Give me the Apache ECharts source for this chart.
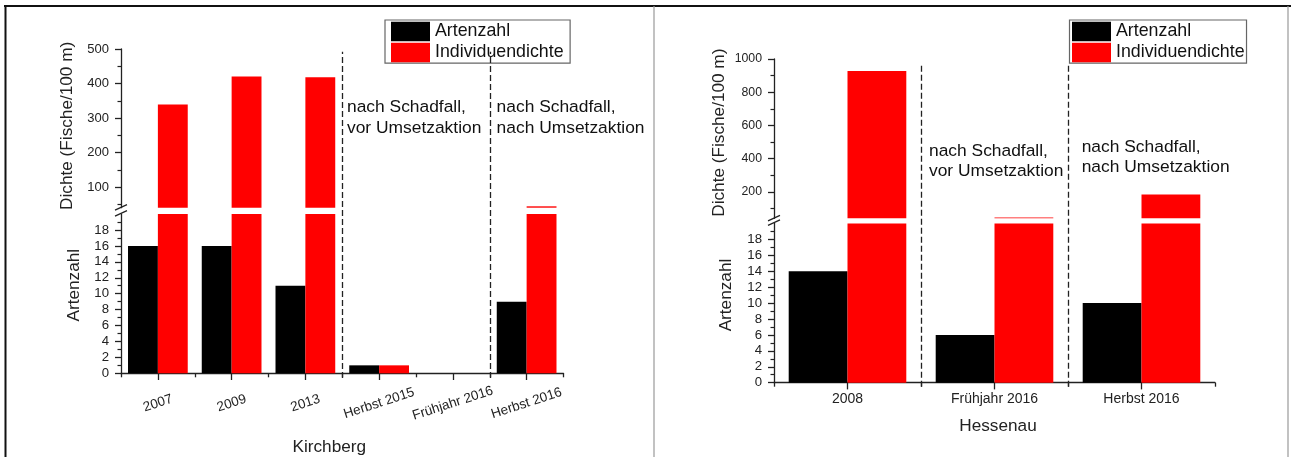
<!DOCTYPE html>
<html>
<head>
<meta charset="utf-8">
<script src="https://cdn.jsdelivr.net/npm/echarts@6/dist/echarts.min.js"></script>
<style>
html,body{margin:0;padding:0;background:#fff;}
#c{width:1291px;height:457px;}
</style>
</head>
<body>
<div id="c"></div>
<script>
// ---------------- data ----------------
const categoriesK = ['2007', '2009', '2013', 'Herbst 2015', 'Frühjahr 2016', 'Herbst 2016'];
const artenK = [16, 16, 11, 1, 0, 9];
const dichteK = [339, 420, 418, 1, 0, 44];

const categoriesH = ['2008', 'Frühjahr 2016', 'Herbst 2016'];
const artenH = [14, 6, 10];
const dichteH = [928, 45, 184];

const dividersK = [3, 5];
const dividersH = [1, 2];

const lowerRange = [0, 20];
const upperRangeK = [40, 500];
const upperRangeH = [40, 1000];

const lowerTicks = [0, 2, 4, 6, 8, 10, 12, 14, 16, 18];
const lowerMinor = [1, 3, 5, 7, 9, 11, 13, 15, 17, 19];
const upperTicksK = [100, 200, 300, 400, 500];
const upperMinorK = [50, 150, 250, 350, 450];
const upperTicksH = [200, 400, 600, 800, 1000];
const upperMinorH = [100, 300, 500, 700, 900];

const seriesNames = ['Artenzahl', 'Individuendichte'];
const annotK = [['nach Schadfall,', 'vor Umsetzaktion'], ['nach Schadfall,', 'nach Umsetzaktion']];
const annotH = [['nach Schadfall,', 'vor Umsetzaktion'], ['nach Schadfall,', 'nach Umsetzaktion']];
const axisNames = {upper: 'Dichte (Fische/100 m)', lower: 'Artenzahl', xK: 'Kirchberg', xH: 'Hessenau'};

// ---------------- layout / style ----------------
const FONT = '"Liberation Sans", Arial, sans-serif';
const AX = '#222';
const colors = ['#000000', '#ff0000'];

const P = {
  K: {left: 121, width: 442.5, upTop: 49, upH: 158.7, loTop: 214.1, loH: 159.2, ovTop: 51.7, ovBottom: 378},
  H: {left: 774, width: 441, upTop: 59, upH: 159.3, loTop: 223.4, loH: 159.3, ovTop: 63.3, ovBottom: 386.7}
};

function grids(p) {
  return [
    {left: p.left, top: p.upTop, width: p.width, height: p.upH, outerBoundsMode: 'none', containLabel: false},
    {left: p.left, top: p.loTop, width: p.width, height: p.loH, outerBoundsMode: 'none', containLabel: false},
    {left: p.left, top: p.ovTop, width: p.width, height: p.ovBottom - p.ovTop, outerBoundsMode: 'none', containLabel: false}
  ];
}

function yMain(gi, range, ticks, name, gap, pad, fs) {
  return {
    type: 'value', gridIndex: gi, position: 'left', min: range[0], max: range[1],
    axisLine: {show: true, lineStyle: {color: AX, width: 1.3}},
    axisTick: {show: true, inside: false, length: 6, lineStyle: {color: AX, width: 1.3}, customValues: ticks},
    axisLabel: {show: true, customValues: ticks, margin: 12, color: AX, fontSize: fs, fontFamily: FONT,
      formatter: v => String(v)},
    splitLine: {show: false}, minorTick: {show: false},
    name: name, nameLocation: 'middle', nameGap: gap, nameRotate: 90,
    nameTextStyle: {fontSize: 17.2, color: AX, fontFamily: FONT, padding: pad}
  };
}
function yMinor(gi, range, ticks) {
  return {
    type: 'value', gridIndex: gi, position: 'left', min: range[0], max: range[1],
    axisLine: {show: false},
    axisTick: {show: true, inside: false, length: 3.5, lineStyle: {color: AX, width: 1.2}, customValues: ticks},
    axisLabel: {show: false}, splitLine: {show: false}
  };
}
function xHidden(gi, cats) {
  return {type: 'category', gridIndex: gi, data: cats, show: false};
}
function xMain(gi, cats, lab, name, gap, pad) {
  return {
    type: 'category', gridIndex: gi, position: 'bottom', data: cats,
    axisLine: {show: true, onZero: false, lineStyle: {color: AX, width: 1.3}},
    axisTick: {show: true, alignWithLabel: true, interval: 0, length: 6.7, lineStyle: {color: AX, width: 1.3}},
    axisLabel: Object.assign({interval: 0, color: AX, fontFamily: FONT}, lab),
    splitLine: {show: false},
    name: name, nameLocation: 'middle', nameGap: gap,
    nameTextStyle: {fontSize: 17.2, color: AX, fontFamily: FONT, padding: pad}
  };
}
function xBound(gi, cats) {
  return {
    type: 'category', gridIndex: gi, position: 'bottom', data: cats,
    axisLine: {show: false, onZero: false},
    axisTick: {show: true, alignWithLabel: false, interval: 0, length: 4, lineStyle: {color: AX, width: 1.3}},
    axisLabel: {show: false}, splitLine: {show: false}
  };
}
function xOverlay(gi, n) {
  return {type: 'value', gridIndex: gi, min: 0, max: n, show: false};
}
function yOverlay(gi) {
  return {type: 'value', gridIndex: gi, min: 0, max: 1, show: false};
}

function bars(xi, yi, arten, dichte, gapPct) {
  const common = {type: 'bar', xAxisIndex: xi, yAxisIndex: yi, barGap: '0%', barCategoryGap: gapPct, clip: true, silent: true};
  return [
    Object.assign({name: seriesNames[0], data: arten, itemStyle: {color: colors[0]}}, common),
    Object.assign({name: seriesNames[1], data: dichte, itemStyle: {color: colors[1]}}, common)
  ];
}
function dividerSeries(xi, yi, divs) {
  return {
    type: 'line', xAxisIndex: xi, yAxisIndex: yi, data: [], silent: true,
    markLine: {
      symbol: 'none', silent: true, animation: false, label: {show: false},
      lineStyle: {type: [6, 3], color: '#222', width: 1.3},
      data: divs.map(v => ({xAxis: v}))
    }
  };
}

const xAxes = [
  xHidden(0, categoriesK),
  xMain(1, categoriesK, {rotate: 18, align: 'center', verticalAlign: 'middle', margin: 30, fontSize: 13.5}, axisNames.xK, 65, [0, 26, 0, 0]),
  xBound(1, categoriesK),
  xOverlay(2, categoriesK.length),
  xHidden(3, categoriesH),
  xMain(4, categoriesH, {rotate: 0, margin: 9, fontSize: 14}, axisNames.xH, 35, [0, 0, 0, 7]),
  xBound(4, categoriesH),
  xOverlay(5, categoriesH.length)
];
const yAxes = [
  yMain(0, upperRangeK, upperTicksK, axisNames.upper, 45, [0, 0, 0, 5], 13),
  yMinor(0, upperRangeK, upperMinorK),
  yMain(1, lowerRange, lowerTicks, axisNames.lower, 38.5, [0, 0, 0, 17], 13.2),
  yMinor(1, lowerRange, lowerMinor),
  yOverlay(2),
  yMain(3, upperRangeH, upperTicksH, axisNames.upper, 46, [0, 0, 0, 12], 12.3),
  yMinor(3, upperRangeH, upperMinorH),
  yMain(4, lowerRange, lowerTicks, axisNames.lower, 39, [0, 0, 0, 16], 13.2),
  yMinor(4, lowerRange, lowerMinor),
  yOverlay(5)
];

const series = [].concat(
  bars(0, 0, artenK, dichteK, '19%'),
  bars(1, 2, artenK, dichteK, '19%'),
  [dividerSeries(3, 4, dividersK)],
  bars(4, 5, artenH, dichteH, '20%'),
  bars(5, 7, artenH, dichteH, '20%'),
  [dividerSeries(7, 9, dividersH)]
);

function legend(left, pad) {
  return {
    left: left, top: 20, orient: 'vertical', icon: 'rect',
    itemWidth: 39, itemHeight: 19.5, itemGap: 1.5, padding: pad,
    borderColor: '#666', borderWidth: 1.2, backgroundColor: '#fff',
    selectedMode: false, data: seriesNames,
    textStyle: {fontSize: 17.8, color: '#111', fontFamily: FONT}
  };
}

function breakMarks(p) {
  const yb = p.upTop + p.upH, yt = p.loTop, x = p.left;
  const st = {stroke: AX, lineWidth: 1.3};
  return [
    {type: 'line', silent: true, shape: {x1: x - 6, y1: yb + 2.5, x2: x + 6, y2: yb - 3}, style: st},
    {type: 'line', silent: true, shape: {x1: x - 6, y1: yt + 2, x2: x + 6, y2: yt - 3.5}, style: st}
  ];
}
function annText(x, yTop, lines, lh) {
  return {
    type: 'text', silent: true, x: x, y: yTop,
    style: {text: lines.join('\n'), fill: '#111', fontSize: 17.4, fontFamily: FONT, lineHeight: lh, verticalAlign: 'top', align: 'left'}
  };
}

const graphics = [].concat(
  [
    {type: 'line', silent: true, shape: {x1: 4, y1: 6, x2: 1291, y2: 6}, style: {stroke: '#111', lineWidth: 2}},
    {type: 'line', silent: true, shape: {x1: 5.5, y1: 5, x2: 5.5, y2: 457}, style: {stroke: '#111', lineWidth: 2}},
    {type: 'line', silent: true, shape: {x1: 654, y1: 6, x2: 654, y2: 457}, style: {stroke: '#999', lineWidth: 1.2}},
    {type: 'line', silent: true, shape: {x1: 1288, y1: 6, x2: 1288, y2: 457}, style: {stroke: '#999', lineWidth: 1.2}}
  ],
  breakMarks(P.K), breakMarks(P.H),
  [
    annText(347, 97.1, annotK[0], 21),
    annText(496.6, 97.1, annotK[1], 21),
    annText(929, 141.3, annotH[0], 20),
    annText(1081.7, 137.3, annotH[1], 20)
  ]
);

const option = {
  animation: false,
  backgroundColor: '#fff',
  textStyle: {fontFamily: FONT},
  grid: [].concat(grids(P.K), grids(P.H)),
  xAxis: xAxes,
  yAxis: yAxes,
  legend: [legend(385, [1.7, 6.6, 1, 6]), legend(1069.5, [1.7, 2, 1, 2.5])],
  series: series,
  graphic: {elements: graphics}
};

const chart = echarts.init(document.getElementById('c'), null, {renderer: 'canvas'});
chart.setOption(option);
</script>
</body>
</html>
